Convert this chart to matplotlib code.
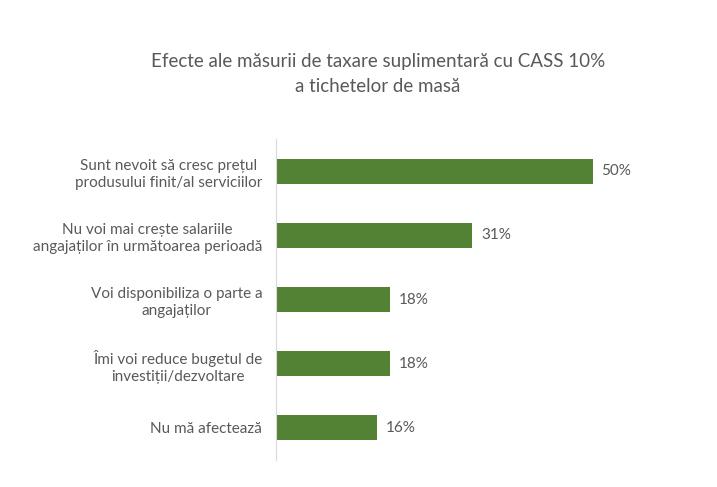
import matplotlib.pyplot as plt

# Data
categories = [
    "Sunt nevoit să cresc prețul\nprodusului finit/al serviciilor",
    "Nu voi mai crește salariile\nangajaților în următoarea perioadă",
    "Voi disponibiliza o parte a\nangajaților",
    "Îmi voi reduce bugetul de\ninvestiții/dezvoltare",
    "Nu mă afectează",
]
values = [50, 31, 18, 18, 16]
value_labels = ["50%", "31%", "18%", "18%", "16%"]

title = "Efecte ale măsurii de taxare suplimentară cu CASS 10%\na tichetelor de masă"

plt.rcParams['font.family'] = ['Lato', 'DejaVu Sans']
text_color = '#595959'
bar_color = '#548235'

fig = plt.figure(figsize=(7.17, 4.87), dpi=100)
ax = fig.add_axes([0.385, 0.0554, 0.53, 0.659])

y_pos = list(range(len(categories)))
ax.barh(y_pos, values, height=0.39, color=bar_color)

for y, v, lab in zip(y_pos, values, value_labels):
    ax.text(v + 1.4, y, lab, va='center', ha='left', fontsize=11, color=text_color)

ax.set_yticks(y_pos)
ax.set_yticklabels(categories, fontsize=11, color=text_color, linespacing=1.3)
for t in ax.get_yticklabels():
    t.set_multialignment('center')
ax.tick_params(axis='y', length=0, pad=10)
ax.set_xticks([])
ax.set_xlim(0, 60)
ax.set_ylim(4.5, -0.5)

for s in ['top', 'right', 'bottom']:
    ax.spines[s].set_visible(False)
ax.spines['left'].set_color('#d9d9d9')

fig.text(0.527, 0.848, title, ha='center', va='center', fontsize=13.5,
         color=text_color, linespacing=1.55)

fig.savefig('out.png', dpi=100)
